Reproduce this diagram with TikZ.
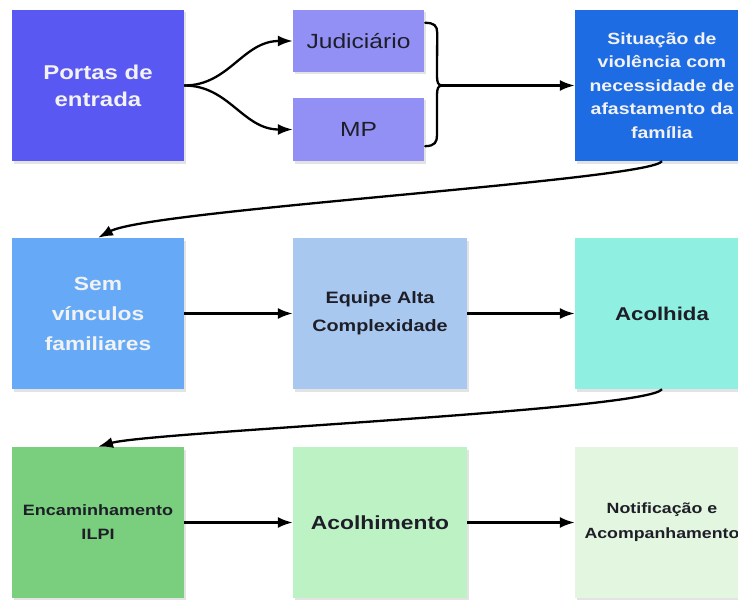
\documentclass[tikz,border=0pt]{standalone}
\usepackage{fontspec}
\setmainfont{Liberation Sans}[FakeStretch=1.2]
\usetikzlibrary{arrows.meta,shadows,calc}
\definecolor{portasC}{HTML}{5A58F2}
\definecolor{judC}{HTML}{9290F5}
\definecolor{sitC}{HTML}{1E6CE4}
\definecolor{semC}{HTML}{66AAF7}
\definecolor{eqC}{HTML}{A8C8F0}
\definecolor{acoC}{HTML}{8FF0E2}
\definecolor{encC}{HTML}{7ACF7E}
\definecolor{acmC}{HTML}{BDF2C4}
\definecolor{notC}{HTML}{E3F6DF}
\definecolor{txtDark}{HTML}{1E1E28}
\definecolor{txtLight}{HTML}{F2F2F2}
\tikzset{
  box/.style={rectangle, inner sep=0pt, align=center, minimum width=172pt, minimum height=151pt,
    drop shadow={opacity=0.22, shadow xshift=1.5pt, shadow yshift=-2.5pt}},
  smallbox/.style={box, minimum width=131pt, minimum height=62pt},
  conn/.style={line width=2.3pt, -{Latex[length=15pt,width=11pt]}},
  bracestyle/.style={line width=2.3pt, line cap=round},
}
\begin{document}
\begin{tikzpicture}[x=1pt,y=-1pt]
\useasboundingbox (0,0) rectangle (738,599);
% row 1
\node[box, fill=portasC, text=txtLight, font=\bfseries\fontsize{20}{27}\selectfont] (portas) at (98,85.5) {Portas de\\entrada};
\node[smallbox, fill=judC, text=txtDark, font=\fontsize{20.5}{24}\selectfont] (jud) at (358.5,41) {Judiciário};
\node[smallbox, fill=judC, text=txtDark, minimum height=63pt, font=\fontsize{20.5}{24}\selectfont] (mp) at (358.5,129.5) {MP};
\node[box, minimum width=174pt, fill=sitC, text=txtLight, font=\bfseries\fontsize{16.2}{23.5}\selectfont] (sit) at (662,85.5) {Situação de\\violência com\\necessidade de\\afastamento da\\família};
% row 2
\node[box, fill=semC, text=txtLight, font=\bfseries\fontsize{19}{30}\selectfont] (sem) at (98,313.5) {Sem\\vínculos\\familiares};
\node[box, minimum width=174pt, fill=eqC, text=txtDark, font=\bfseries\fontsize{16.5}{28}\selectfont] (eq) at (380,313.5) {Equipe Alta\\Complexidade};
\node[box, minimum width=174pt, fill=acoC, text=txtDark, font=\bfseries\fontsize{18.5}{24}\selectfont] (aco) at (662,313.5) {Acolhida};
% row 3
\node[box, fill=encC, text=txtDark, font=\bfseries\fontsize{15}{24}\selectfont] (enc) at (98,522.5) {Encaminhamento\\ILPI};
\node[box, minimum width=174pt, fill=acmC, text=txtDark, font=\bfseries\fontsize{19}{24}\selectfont] (acm) at (380,522.5) {Acolhimento};
\node[box, minimum width=174pt, fill=notC, text=txtDark, font=\bfseries\fontsize{14.8}{25}\selectfont] (not) at (662,522.5) {Notificação e\\Acompanhamento};
% fork
\draw[conn] (portas.east) .. controls +(45,0) and +(-50,0) .. (jud.west);
\draw[conn] (portas.east) .. controls +(45,0) and +(-50,0) .. (mp.west);
% brace
\coordinate (bt) at (442,85.5);
\draw[bracestyle] ($(jud.north east)+(1,13)$) .. controls +(9,0) and +(0,-7) .. ++(12,10)
  -- (437,76) .. controls (437,82) and (438,85.5) .. (bt)
  .. controls (438,85.5) and (437,89) .. (437,95)
  -- (437,135) .. controls (437,142) and (435,146) .. ($(mp.south east)+(1,-15)$);
\draw[conn] (bt) -- (sit.west |- bt);
% row links
\draw[conn] (sit.south) .. controls +(-12,19) and +(52,-28) .. (sem.north);
\draw[conn] (sem.east) -- (eq.west);
\draw[conn] (eq.east) -- (aco.west);
\draw[conn] (aco.south) .. controls +(-14,21) and +(52,-15) .. (enc.north);
\draw[conn] (enc.east) -- (acm.west);
\draw[conn] (acm.east) -- (not.west);
\end{tikzpicture}
\end{document}
